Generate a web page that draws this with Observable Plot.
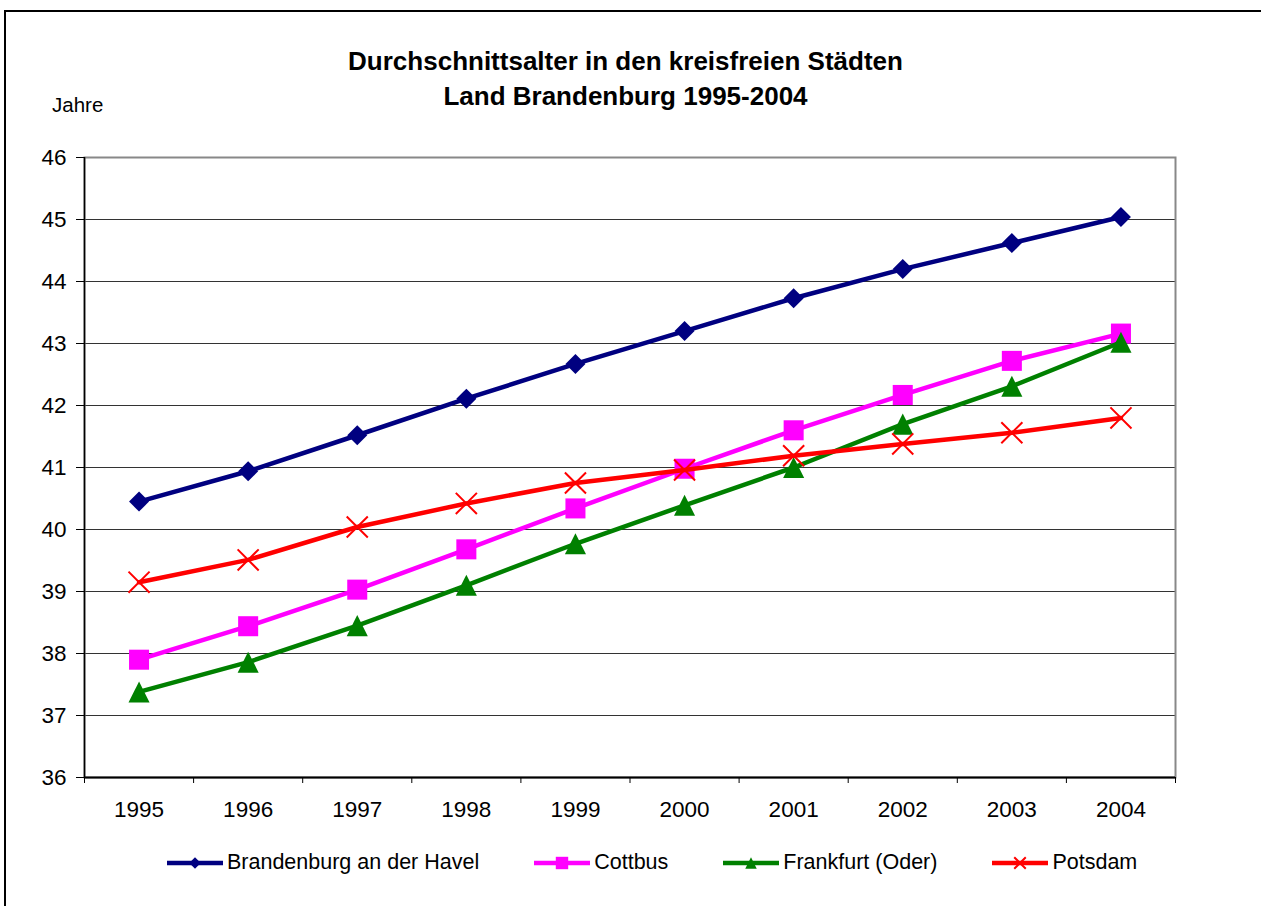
<!DOCTYPE html>
<html>
<head>
<meta charset="utf-8">
<script src="https://cdn.jsdelivr.net/npm/d3@7"></script>
<script src="https://cdn.jsdelivr.net/npm/@observablehq/plot@0.6"></script>
<style>
  html, body { margin: 0; padding: 0; background: #fff; width: 1261px; height: 906px; overflow: hidden; }
  body { position: relative; font-family: "Liberation Sans", Arial, sans-serif; color: #000; }
  #frame { position: absolute; left: 4px; top: 10px; width: 2000px; height: 2000px; border: 2px solid #000; box-sizing: border-box; }
  #title { position: absolute; left: 0; width: 1251px; top: 44px; text-align: center; font-weight: bold; font-size: 26px; line-height: 35px; }
  #ylabel { position: absolute; left: 52px; top: 93px; font-size: 20.5px; }
  #chart { position: absolute; left: 0; top: 0; }
  #legend { position: absolute; top: 850px; left: 167px; display: flex; align-items: center; font-size: 21.5px; }
  .item { display: flex; align-items: center; margin-right: 55px; }
  .item svg { margin-right: 4px; }
</style>
</head>
<body>
<div id="frame"></div>
<div id="chart"></div>
<div id="title">Durchschnittsalter in den kreisfreien Städten<br>Land Brandenburg 1995-2004</div>
<div id="ylabel">Jahre</div>
<div id="legend"></div>
<script>
const years = [1995, 1996, 1997, 1998, 1999, 2000, 2001, 2002, 2003, 2004];
const brandenburg = [40.45, 40.94, 41.52, 42.11, 42.67, 43.20, 43.73, 44.20, 44.62, 45.04];
const cottbus     = [37.90, 38.44, 39.03, 39.68, 40.34, 40.98, 41.60, 42.17, 42.72, 43.16];
const frankfurt   = [37.38, 37.86, 38.45, 39.10, 39.77, 40.39, 41.00, 41.70, 42.31, 43.02];
const potsdam     = [39.15, 39.51, 40.04, 40.42, 40.75, 40.96, 41.19, 41.38, 41.56, 41.80];
const seriesNames = ["Brandenburg an der Havel", "Cottbus", "Frankfurt (Oder)", "Potsdam"];
const seriesValues = [brandenburg, cottbus, frankfurt, potsdam];
const seriesColors = ["#000080", "#FF00FF", "#008000", "#FF0000"];
const yTicks = [36, 37, 38, 39, 40, 41, 42, 43, 44, 45, 46];

// marker shapes (Excel-like)
const diamondSym = {draw(ctx, size) { const h = Math.sqrt(size) / 2; ctx.moveTo(0, -h); ctx.lineTo(h, 0); ctx.lineTo(0, h); ctx.lineTo(-h, 0); ctx.closePath(); }};
const squareSym = {draw(ctx, size) { const h = Math.sqrt(size) / 2; ctx.rect(-h, -h, 2 * h, 2 * h); }};
const triangleSym = {draw(ctx, size) { const h = Math.sqrt(size) / 2; ctx.moveTo(0, -h); ctx.lineTo(h, h); ctx.lineTo(-h, h); ctx.closePath(); }};
const timesSym = {draw(ctx, size) { const h = Math.sqrt(size) / 2; ctx.moveTo(-h, -h); ctx.lineTo(h, h); ctx.moveTo(h, -h); ctx.lineTo(-h, h); }};
const symbols = [diamondSym, squareSym, triangleSym, timesSym];
const markerR = [11.3, 11.3, 11.9, 11.9];

const data = seriesNames.map((name, i) => years.map((year, j) => ({series: name, year, value: seriesValues[i][j]})));

const boundaries = [];
for (let k = 0; k <= years.length; k++) boundaries.push(years[0] - 0.5 + k);

const seriesMarks = data.flatMap((rows, i) => {
  const isStroke = symbols[i] === timesSym;
  return [
    Plot.line(rows, {x: "year", y: "value", stroke: seriesColors[i], strokeWidth: 4.5}),
    Plot.dot(rows, {x: "year", y: "value", symbol: symbols[i], r: markerR[i],
      fill: isStroke ? "none" : seriesColors[i], stroke: isStroke ? seriesColors[i] : "none", strokeWidth: isStroke ? 2 : 0})
  ];
});

const chart = Plot.plot({
  width: 1261,
  height: 906,
  marginLeft: 84,
  marginRight: 86,
  marginTop: 157,
  marginBottom: 129,
  style: {fontFamily: "Liberation Sans, Arial, sans-serif", fontSize: "22.5px", color: "#000", background: "transparent"},
  x: {type: "linear", domain: [years[0] - 0.5, years[years.length - 1] + 0.5]},
  y: {domain: [yTicks[0], yTicks[yTicks.length - 1]]},
  marks: [
    Plot.gridY(yTicks, {stroke: "#333", strokeOpacity: 1, strokeWidth: 1.2}),
    Plot.frame({stroke: "#888", strokeWidth: 2}),
    Plot.ruleX([years[0] - 0.5], {stroke: "#000", strokeWidth: 1.5}),
    Plot.ruleY([yTicks[0]], {stroke: "#000", strokeWidth: 2}),
    Plot.axisY(yTicks, {tickSize: 8, tickPadding: 10, tickFormat: "d", label: null, fontSize: 22.5}),
    Plot.axisX(boundaries, {tickSize: 6, tickFormat: () => "", label: null}),
    Plot.axisX(years, {tickSize: 0, tickPadding: 24, tickFormat: "d", label: null, fontSize: 22.5}),
    ...seriesMarks
  ]
});
document.getElementById("chart").appendChild(chart);

// legend
const legend = document.getElementById("legend");
const legendR = [6.5, 7, 6.5, 6.5];
seriesNames.forEach((name, i) => {
  const item = document.createElement("div");
  item.className = "item";
  const w = 56, h = 20;
  const svg = d3.create("svg").attr("width", w).attr("height", h);
  svg.append("line").attr("x1", 0).attr("x2", w).attr("y1", h / 2).attr("y2", h / 2)
    .attr("stroke", seriesColors[i]).attr("stroke-width", 4.5);
  const size = Math.PI * legendR[i] * legendR[i];
  const isStroke = symbols[i] === timesSym;
  svg.append("path").attr("transform", `translate(${w / 2},${h / 2})`)
    .attr("d", d3.symbol(symbols[i], size)())
    .attr("fill", isStroke ? "none" : seriesColors[i])
    .attr("stroke", isStroke ? seriesColors[i] : "none")
    .attr("stroke-width", 2);
  item.appendChild(svg.node());
  const span = document.createElement("span");
  span.textContent = name;
  item.appendChild(span);
  legend.appendChild(item);
});
</script>
</body>
</html>
